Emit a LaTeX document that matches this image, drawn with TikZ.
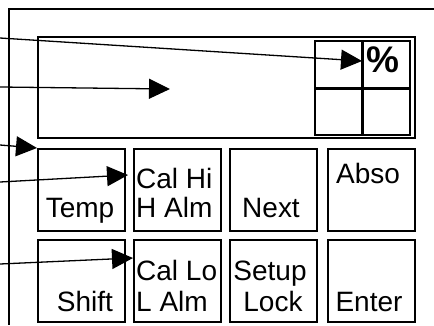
\documentclass[tikz,border=0pt]{standalone}
\usepackage{fontspec}
\setmainfont{Liberation Sans}
\usetikzlibrary{arrows.meta}
\begin{document}
\begin{tikzpicture}[x=1pt,y=-1pt,
  frame/.style={line width=2pt},
  keybox/.style={draw,line width=2pt,minimum width=87pt,minimum height=82pt,inner sep=0pt,anchor=north west},
  lbl/.style={font=\fontsize{28}{30}\selectfont,inner sep=0pt,anchor=base},
  lblw/.style={lbl,anchor=base west},
  pointer/.style={line width=1.3pt,-{Triangle[length=21pt,width=20pt]}}]
\useasboundingbox (0,0) rectangle (434,325);
% outer frame
\coordinate (ftr) at (434,9);
\coordinate (fc) at (9,9);
\coordinate (fbl) at (9,325);
\draw[frame] (ftr) -- (fc) -- (fbl);
% display
\node[draw,line width=2pt,minimum width=377pt,minimum height=101pt,inner sep=0pt,anchor=north west] (disp) at (37,36) {};
\node[draw,line width=2pt,minimum width=95pt,minimum height=94pt,inner sep=0pt,anchor=north west] (grid) at (314,40) {};
\draw[line width=3pt] (grid.north) -- (grid.south);
\draw[line width=3pt] (grid.west) -- (grid.east);
\node[font=\bfseries\fontsize{37}{39}\selectfont,inner sep=0pt] (pct) at (383,60) {\%};
% keys
\node[keybox] (k1) at (37,148) {};
\node[keybox] (k2) at (133,148) {};
\node[keybox] (k3) at (229,148) {};
\node[keybox] (k4) at (327,148) {};
\node[keybox] (k5) at (37,239) {};
\node[keybox] (k6) at (133,239) {};
\node[keybox] (k7) at (229,239) {};
\node[keybox] (k8) at (327,239) {};
% labels
\node[lbl] (t1) at (80,217) {Temp};
\node[lblw] (t2a) at (136,188) {Cal Hi};
\node[lblw] (t2b) at (136,217) {H Alm};
\node[lbl] (t3) at (271,217) {Next};
\node[lbl] (t4) at (368,183) {Abso};
\node[lbl] (t5) at (85,311) {Shift};
\node[lblw] (t6a) at (136,280) {Cal Lo};
\node[lblw] (t6b) at (136,311) {L Alm};
\node[lbl] (t7a) at (270,280) {Setup};
\node[lbl] (t7b) at (273,311) {Lock};
\node[lbl] (t8) at (369,311) {Enter};
% pointers
\coordinate (s1) at (0,38);
\coordinate (s2) at (0,87);
\coordinate (s3) at (0,145);
\coordinate (s4) at (0,182);
\coordinate (s5) at (0,264);
\coordinate (e1) at (362,61);
\coordinate (e2) at (170,89);
\coordinate (e4) at (128,175);
\coordinate (e5) at (133,258);
\draw[pointer] (s1) -- (e1);
\draw[pointer] (s2) -- (e2);
\draw[pointer] (s3) -- (k1.north west);
\draw[pointer] (s4) -- (e4);
\draw[pointer] (s5) -- (e5);
\end{tikzpicture}
\end{document}
